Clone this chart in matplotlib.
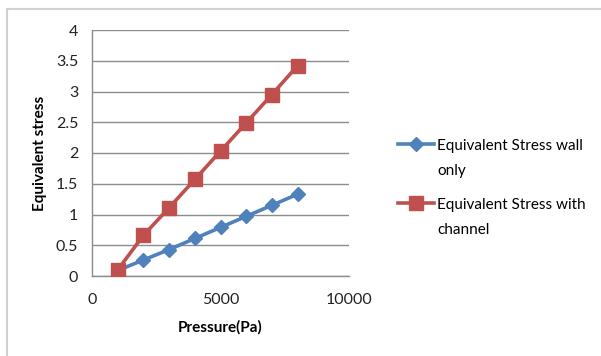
import matplotlib.pyplot as plt
from matplotlib.lines import Line2D

pressure = [1000, 2000, 3000, 4000, 5000, 6000, 7000, 8000]
stress_wall = [0.09, 0.26, 0.43, 0.61, 0.79, 0.97, 1.15, 1.33]
stress_channel = [0.10, 0.66, 1.11, 1.57, 2.03, 2.49, 2.95, 3.42]

x_ticks = [0, 5000, 10000]
y_ticks = [0, 0.5, 1, 1.5, 2, 2.5, 3, 3.5, 4]
y_tick_labels = ['0', '0.5', '1', '1.5', '2', '2.5', '3', '3.5', '4']

# legend labels: first line goes in the legend, second line wraps below it
legend_first = ['Equivalent Stress wall', 'Equivalent Stress with']
legend_wrap = ['only', 'channel']

plt.rcParams['font.family'] = ['Lato', 'DejaVu Sans']

W, H = 601, 356
fig = plt.figure(figsize=(W / 100, H / 100), dpi=100)
ax = fig.add_axes([92 / W, 1 - 276 / H, (349 - 92) / W, (276 - 30) / H])

# outer frame (only top and left visible)
fig.add_artist(Line2D([7 / W, 1], [1 - 9 / H, 1 - 9 / H], color='#d0d0d0', lw=1.5))
fig.add_artist(Line2D([7 / W, 7 / W], [0, 1 - 9 / H], color='#d0d0d0', lw=1.5))

ax.plot(pressure, stress_wall, color='#4F81BD', lw=2.6, marker='D',
        markersize=7, label=legend_first[0], zorder=3)
ax.plot(pressure, stress_channel, color='#C0504D', lw=2.6, marker='s',
        markersize=9.5, label=legend_first[1], zorder=3)

ax.set_xlim(0, 10000)
ax.set_ylim(0, 4)
ax.set_xticks(x_ticks)
ax.set_xticklabels([str(t) for t in x_ticks])
ax.set_yticks(y_ticks)
ax.set_yticklabels(y_tick_labels)
ax.tick_params(length=0, labelsize=11.5, colors='#222222')
ax.tick_params(axis='x', pad=12)
ax.tick_params(axis='y', pad=10)

ax.grid(axis='y', color='#8c8c8c', lw=1)
ax.set_axisbelow(True)
for s in ['top', 'right']:
    ax.spines[s].set_visible(False)
for s in ['left', 'bottom']:
    ax.spines[s].set_color('#8c8c8c')
    ax.spines[s].set_linewidth(1)

ax.set_xlabel('Pressure(Pa)', fontsize=11, fontweight='bold', labelpad=10)
ax.set_ylabel('Equivalent stress', fontsize=11, fontweight='bold', labelpad=6)

leg = fig.legend(loc='upper left', bbox_to_anchor=(384 / W, 1 - 125 / H),
                 frameon=False, fontsize=11, handlelength=2.4, handletextpad=0.2,
                 labelspacing=2.95)

fig.canvas.draw()
for txt, extra in zip(leg.get_texts(), legend_wrap):
    bb = txt.get_window_extent()
    fig.text(bb.x0 / W, (bb.y0 - 11) / H, extra, fontsize=11,
             ha='left', va='top')

fig.savefig('out.png', dpi=100)
